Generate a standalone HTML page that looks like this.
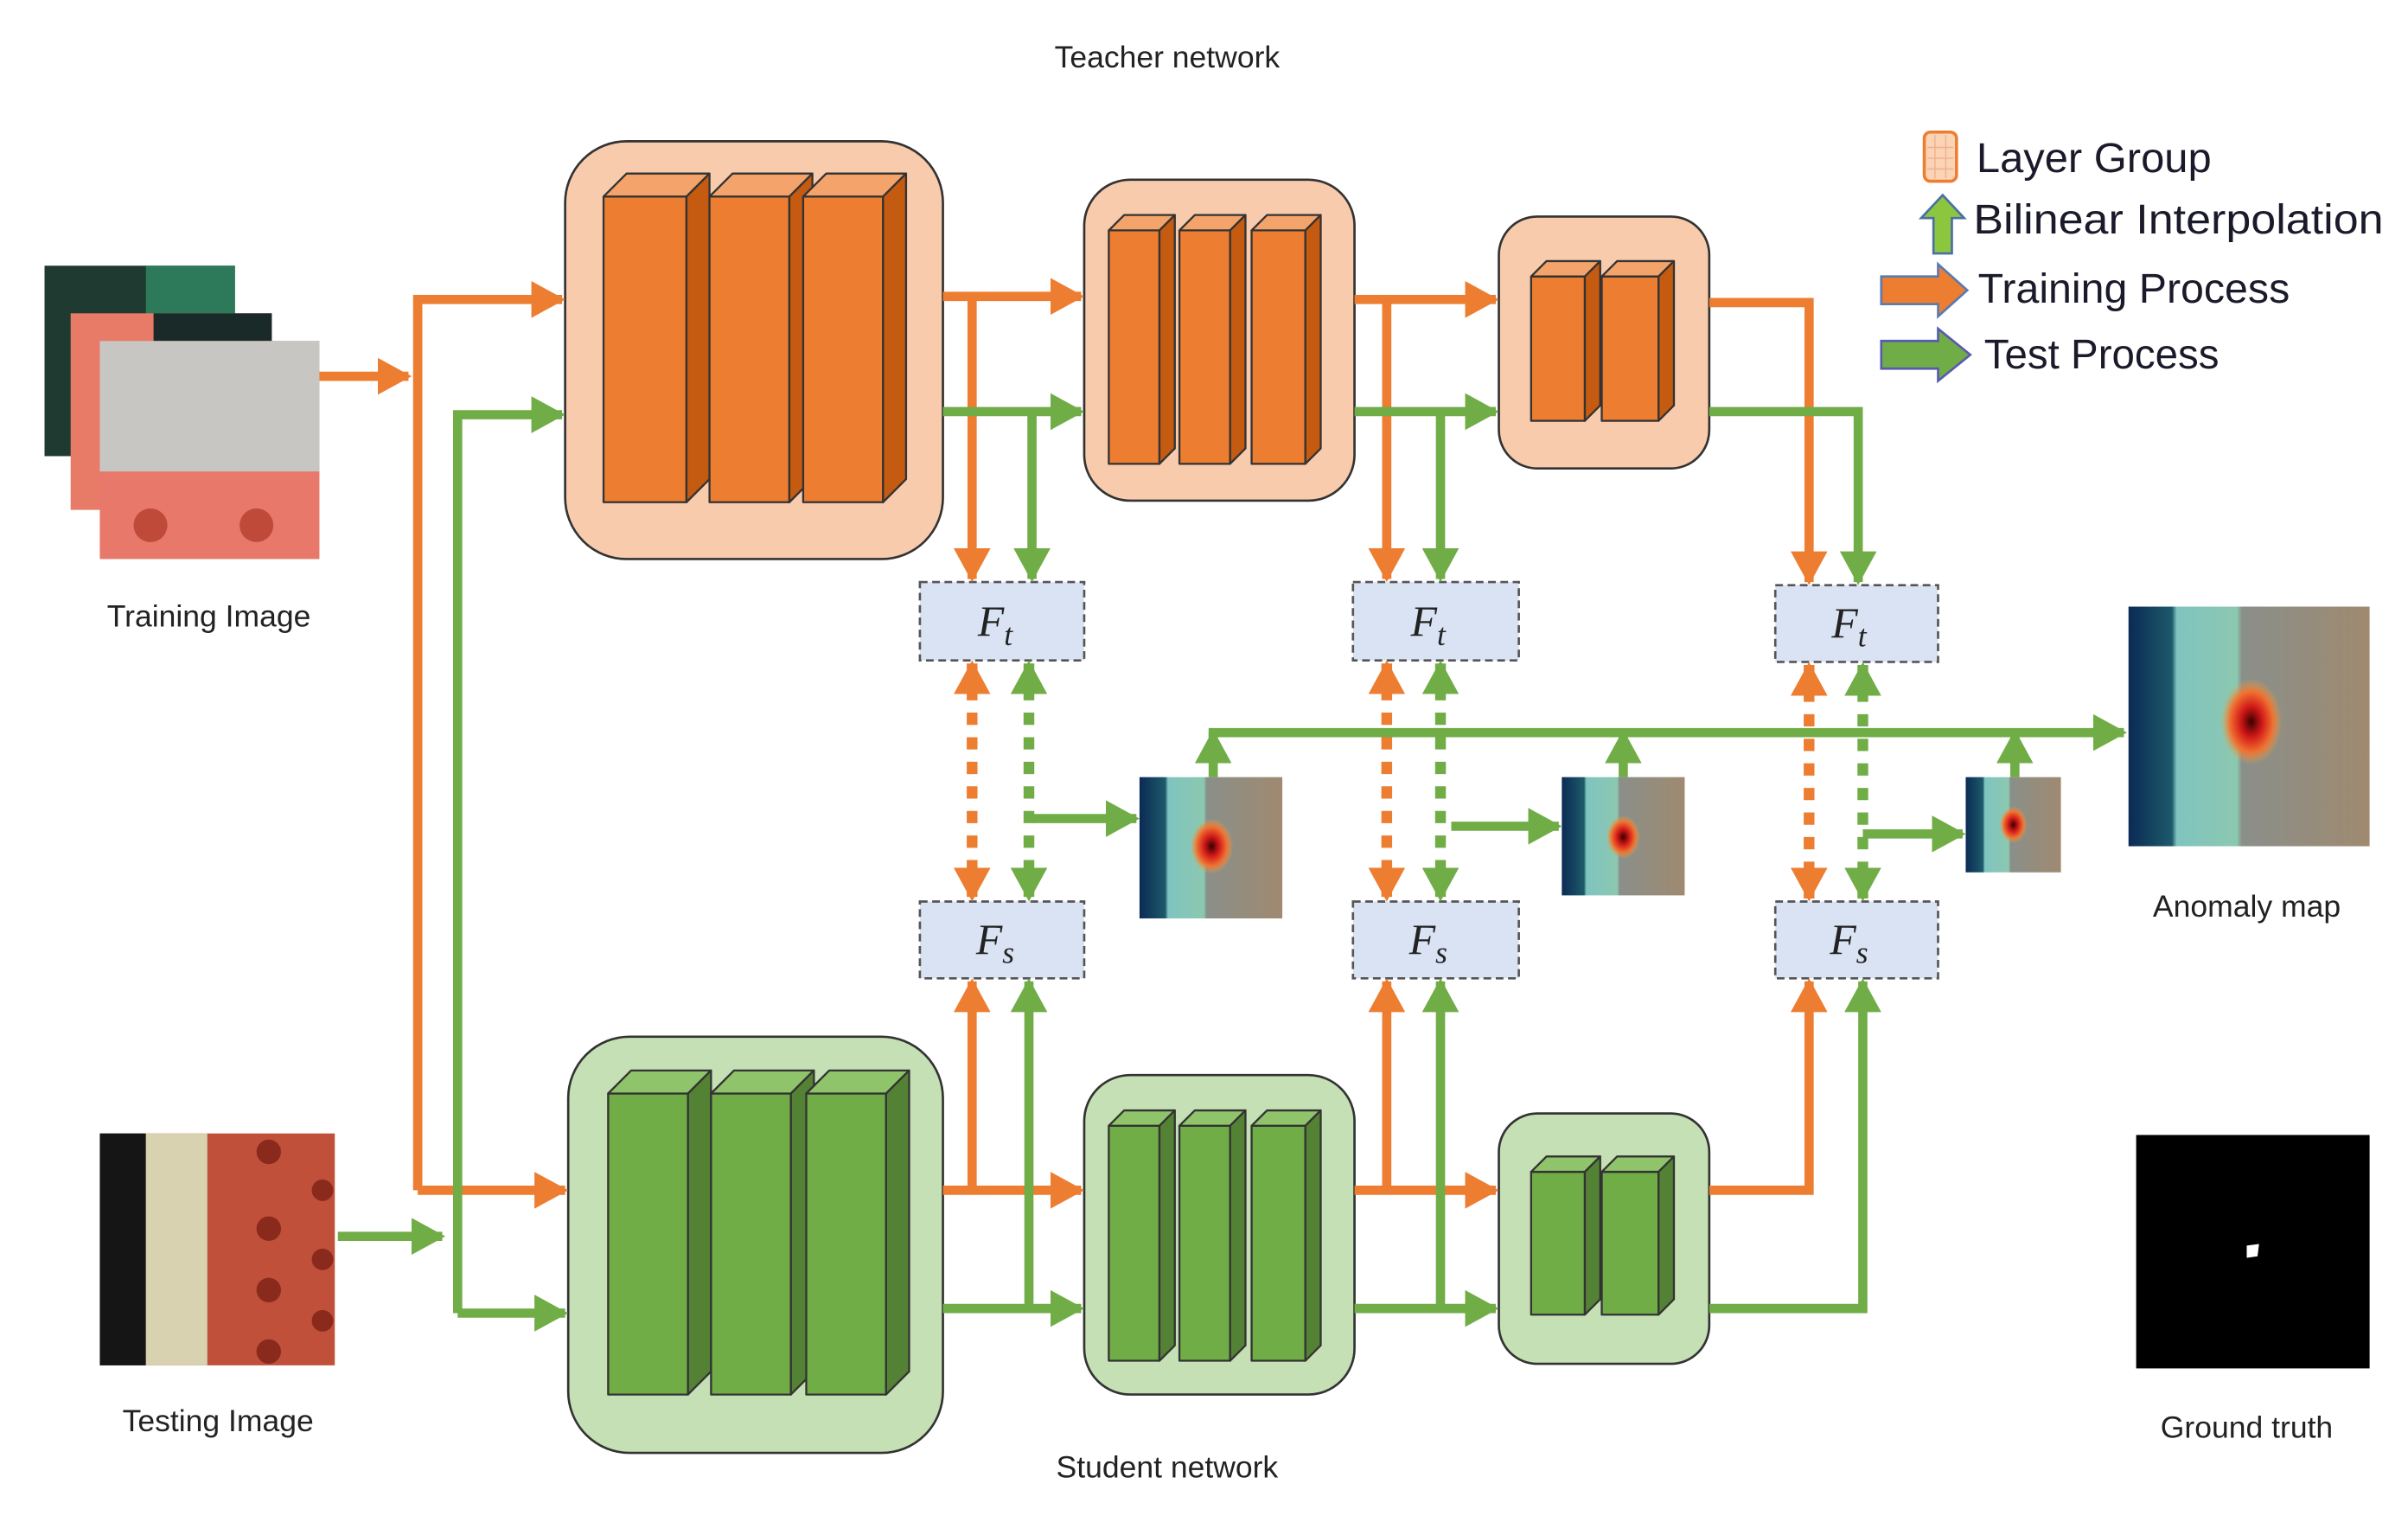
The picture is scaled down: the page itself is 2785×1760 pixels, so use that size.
<!DOCTYPE html>
<html><head><meta charset="utf-8"><style>html,body{margin:0;padding:0;background:#fff}svg{display:block}</style></head>
<body>
<svg width="2785" height="1760" viewBox="0 0 1568 991" preserveAspectRatio="none" xmlns="http://www.w3.org/2000/svg" font-family="Liberation Sans, DejaVu Sans, sans-serif">
<defs>
<marker id="ao" markerWidth="24" markerHeight="24" refX="20" refY="12" orient="auto-start-reverse" markerUnits="userSpaceOnUse"><path d="M0,0 L22,12 L0,24 z" fill="#ed7d31"/></marker>
<marker id="ag" markerWidth="24" markerHeight="24" refX="20" refY="12" orient="auto-start-reverse" markerUnits="userSpaceOnUse"><path d="M0,0 L22,12 L0,24 z" fill="#70ad47"/></marker>
<linearGradient id="hm" x1="0" x2="1" y1="0" y2="0">
<stop offset="0" stop-color="#0b2a55"/><stop offset="0.18" stop-color="#1d5a6a"/><stop offset="0.2" stop-color="#7fc4c0"/><stop offset="0.45" stop-color="#8cc8b0"/><stop offset="0.47" stop-color="#8a8f8a"/><stop offset="1" stop-color="#a08a70"/></linearGradient>
<radialGradient id="hot"><stop offset="0" stop-color="#3a0000"/><stop offset="0.35" stop-color="#d01818"/><stop offset="0.7" stop-color="#f07030"/><stop offset="1" stop-color="#f0a040" stop-opacity="0"/></radialGradient>
</defs>
<rect width="1568" height="991" fill="#fff"/>

<text x="760" y="44" font-size="20" text-anchor="middle" fill="#222">Teacher network</text>
<text x="760" y="962" font-size="20" text-anchor="middle" fill="#222">Student network</text>

<rect x="29" y="173" width="124" height="124" fill="#1f3a30"/><rect x="95" y="173" width="58" height="60" fill="#2d7a5a"/>
<rect x="46" y="204" width="131" height="128" fill="#e87a68"/><rect x="100" y="204" width="77" height="20" fill="#1a2a28"/>
<rect x="65" y="222" width="143" height="142" fill="#e8786a"/><rect x="65" y="222" width="143" height="85" fill="#c8c6c2"/>
<circle cx="98" cy="342" r="11" fill="#c04a3a"/><circle cx="167" cy="342" r="11" fill="#c04a3a"/>
<text x="136" y="408" font-size="20" text-anchor="middle" fill="#222">Training Image</text>

<rect x="65" y="738" width="153" height="151" fill="#c0503a"/><rect x="65" y="738" width="30" height="151" fill="#151515"/><rect x="95" y="738" width="40" height="151" fill="#d8d2b0"/>
<g fill="#8a2a1c"><circle cx="175" cy="750" r="8"/><circle cx="175" cy="800" r="8"/><circle cx="175" cy="840" r="8"/><circle cx="175" cy="880" r="8"/><circle cx="210" cy="775" r="7"/><circle cx="210" cy="820" r="7"/><circle cx="210" cy="860" r="7"/></g>
<text x="142" y="932" font-size="20" text-anchor="middle" fill="#222">Testing Image</text>

<rect x="742" y="506" width="93" height="92" fill="url(#hm)"/><ellipse cx="789" cy="551" rx="14" ry="18" fill="url(#hot)"/>
<rect x="1017" y="506" width="80" height="77" fill="url(#hm)"/><ellipse cx="1057" cy="545" rx="11" ry="14" fill="url(#hot)"/>
<rect x="1280" y="506" width="62" height="62" fill="url(#hm)"/><ellipse cx="1311" cy="537" rx="9" ry="12" fill="url(#hot)"/>
<rect x="1386" y="395" width="157" height="156" fill="url(#hm)"/><ellipse cx="1466" cy="470" rx="20" ry="28" fill="url(#hot)"/>
<text x="1463" y="597" font-size="20" text-anchor="middle" fill="#222">Anomaly map</text>
<rect x="1391" y="739" width="152" height="152" fill="#000"/><path d="M1463,811 l8,-1 l-1,8 l-7,1 z" fill="#fff"/>
<text x="1463" y="936" font-size="20" text-anchor="middle" fill="#222">Ground truth</text>

<g stroke="#333" stroke-width="1.5">
<rect x="368" y="92" width="246" height="272" rx="40" fill="#f8cbad"/>
<rect x="706" y="117" width="176" height="209" rx="30" fill="#f8cbad"/>
<rect x="976" y="141" width="137" height="164" rx="25" fill="#f8cbad"/>
<rect x="370" y="675" width="244" height="271" rx="40" fill="#c5e0b4"/>
<rect x="706" y="700" width="176" height="208" rx="30" fill="#c5e0b4"/>
<rect x="976" y="725" width="137" height="163" rx="25" fill="#c5e0b4"/>
</g>

<g stroke="#333" stroke-width="1.3" stroke-linejoin="round">
<rect x="393" y="128" width="54" height="199" fill="#ed7d31"/><polygon points="393,128 408,113 462,113 447,128" fill="#f4a46a"/><polygon points="447,128 462,113 462,312 447,327" fill="#c55a11"/>
<rect x="462" y="128" width="52" height="199" fill="#ed7d31"/><polygon points="462,128 477,113 529,113 514,128" fill="#f4a46a"/><polygon points="514,128 529,113 529,312 514,327" fill="#c55a11"/>
<rect x="523" y="128" width="52" height="199" fill="#ed7d31"/><polygon points="523,128 538,113 590,113 575,128" fill="#f4a46a"/><polygon points="575,128 590,113 590,312 575,327" fill="#c55a11"/>
<rect x="722" y="150" width="33" height="152" fill="#ed7d31"/><polygon points="722,150 732,140 765,140 755,150" fill="#f4a46a"/><polygon points="755,150 765,140 765,292 755,302" fill="#c55a11"/>
<rect x="768" y="150" width="33" height="152" fill="#ed7d31"/><polygon points="768,150 778,140 811,140 801,150" fill="#f4a46a"/><polygon points="801,150 811,140 811,292 801,302" fill="#c55a11"/>
<rect x="815" y="150" width="35" height="152" fill="#ed7d31"/><polygon points="815,150 825,140 860,140 850,150" fill="#f4a46a"/><polygon points="850,150 860,140 860,292 850,302" fill="#c55a11"/>
<rect x="997" y="180" width="35" height="94" fill="#ed7d31"/><polygon points="997,180 1007,170 1042,170 1032,180" fill="#f4a46a"/><polygon points="1032,180 1042,170 1042,264 1032,274" fill="#c55a11"/>
<rect x="1043" y="180" width="37" height="94" fill="#ed7d31"/><polygon points="1043,180 1053,170 1090,170 1080,180" fill="#f4a46a"/><polygon points="1080,180 1090,170 1090,264 1080,274" fill="#c55a11"/>
<rect x="396" y="712" width="52" height="196" fill="#70ad47"/><polygon points="396,712 411,697 463,697 448,712" fill="#8fc46a"/><polygon points="448,712 463,697 463,893 448,908" fill="#548235"/>
<rect x="463" y="712" width="52" height="196" fill="#70ad47"/><polygon points="463,712 478,697 530,697 515,712" fill="#8fc46a"/><polygon points="515,712 530,697 530,893 515,908" fill="#548235"/>
<rect x="525" y="712" width="52" height="196" fill="#70ad47"/><polygon points="525,712 540,697 592,697 577,712" fill="#8fc46a"/><polygon points="577,712 592,697 592,893 577,908" fill="#548235"/>
<rect x="722" y="733" width="33" height="153" fill="#70ad47"/><polygon points="722,733 732,723 765,723 755,733" fill="#8fc46a"/><polygon points="755,733 765,723 765,876 755,886" fill="#548235"/>
<rect x="768" y="733" width="33" height="153" fill="#70ad47"/><polygon points="768,733 778,723 811,723 801,733" fill="#8fc46a"/><polygon points="801,733 811,723 811,876 801,886" fill="#548235"/>
<rect x="815" y="733" width="35" height="153" fill="#70ad47"/><polygon points="815,733 825,723 860,723 850,733" fill="#8fc46a"/><polygon points="850,733 860,723 860,876 850,886" fill="#548235"/>
<rect x="997" y="763" width="35" height="93" fill="#70ad47"/><polygon points="997,763 1007,753 1042,753 1032,763" fill="#8fc46a"/><polygon points="1032,763 1042,753 1042,846 1032,856" fill="#548235"/>
<rect x="1043" y="763" width="37" height="93" fill="#70ad47"/><polygon points="1043,763 1053,753 1090,753 1080,763" fill="#8fc46a"/><polygon points="1080,763 1090,753 1090,846 1080,856" fill="#548235"/>
</g>

<g fill="#dae3f3" stroke="#555" stroke-width="1.5" stroke-dasharray="5,3">
<rect x="599" y="379" width="107" height="51"/><rect x="881" y="379" width="108" height="51"/><rect x="1156" y="381" width="106" height="50"/>
<rect x="599" y="587" width="107" height="50"/><rect x="881" y="587" width="108" height="50"/><rect x="1156" y="587" width="106" height="50"/>
</g>
<g font-family="Liberation Serif, DejaVu Serif, serif" font-style="italic" font-size="28" fill="#222" text-anchor="middle">
<text x="648" y="414">F<tspan font-size="20" dy="6">t</tspan></text>
<text x="930" y="414">F<tspan font-size="20" dy="6">t</tspan></text>
<text x="1204" y="415">F<tspan font-size="20" dy="6">t</tspan></text>
<text x="648" y="621">F<tspan font-size="20" dy="6">s</tspan></text>
<text x="930" y="621">F<tspan font-size="20" dy="6">s</tspan></text>
<text x="1204" y="621">F<tspan font-size="20" dy="6">s</tspan></text>
</g>

<g fill="none" stroke="#ed7d31" stroke-width="6">
<path d="M208,245 H266" marker-end="url(#ao)"/>
<path d="M272,775 V195 H366" marker-end="url(#ao)"/>
<path d="M272,775 H368" marker-end="url(#ao)"/>
<path d="M614,193 H704" marker-end="url(#ao)"/>
<path d="M633,193 V377" marker-end="url(#ao)"/>
<path d="M882,195 H974" marker-end="url(#ao)"/>
<path d="M903,195 V377" marker-end="url(#ao)"/>
<path d="M1113,197 H1178 V379" marker-end="url(#ao)"/>
<path d="M614,775 H704" marker-end="url(#ao)"/>
<path d="M633,775 V639" marker-end="url(#ao)"/>
<path d="M882,775 H974" marker-end="url(#ao)"/>
<path d="M903,775 V639" marker-end="url(#ao)"/>
<path d="M1113,775 H1178 V639" marker-end="url(#ao)"/>
</g>
<g fill="none" stroke="#ed7d31" stroke-width="7" stroke-dasharray="8,8">
<path d="M633,432 V585" marker-start="url(#ao)" marker-end="url(#ao)"/>
<path d="M903,432 V585" marker-start="url(#ao)" marker-end="url(#ao)"/>
<path d="M1178,433 V585" marker-start="url(#ao)" marker-end="url(#ao)"/>
</g>
<g fill="none" stroke="#70ad47" stroke-width="6">
<path d="M220,805 H288" marker-end="url(#ag)"/>
<path d="M298,855 V270 H366" marker-end="url(#ag)"/>
<path d="M298,855 H368" marker-end="url(#ag)"/>
<path d="M614,268 H704" marker-end="url(#ag)"/>
<path d="M672,268 V377" marker-end="url(#ag)"/>
<path d="M882,268 H974" marker-end="url(#ag)"/>
<path d="M938,268 V377" marker-end="url(#ag)"/>
<path d="M1113,268 H1210 V379" marker-end="url(#ag)"/>
<path d="M614,852 H704" marker-end="url(#ag)"/>
<path d="M670,852 V639" marker-end="url(#ag)"/>
<path d="M882,852 H974" marker-end="url(#ag)"/>
<path d="M938,852 V639" marker-end="url(#ag)"/>
<path d="M1113,852 H1213 V639" marker-end="url(#ag)"/>
<path d="M672,533 H740" marker-end="url(#ag)"/>
<path d="M945,538 H1015" marker-end="url(#ag)"/>
<path d="M1213,543 H1278" marker-end="url(#ag)"/>
<path d="M790,506 V477" marker-end="url(#ag)"/>
<path d="M1057,506 V477" marker-end="url(#ag)"/>
<path d="M1312,506 V477" marker-end="url(#ag)"/>
<path d="M787,477 H1383" marker-end="url(#ag)"/>
</g>
<g fill="none" stroke="#70ad47" stroke-width="7" stroke-dasharray="8,8">
<path d="M670,432 V585" marker-start="url(#ag)" marker-end="url(#ag)"/>
<path d="M938,432 V585" marker-start="url(#ag)" marker-end="url(#ag)"/>
<path d="M1213,433 V585" marker-start="url(#ag)" marker-end="url(#ag)"/>
</g>

<rect x="1253" y="86" width="21" height="32" rx="4" fill="#fbd3b5" stroke="#ed7d31" stroke-width="2"/>
<g stroke="#f0b090" stroke-width="0.8"><path d="M1260,88 V116 M1267,88 V116 M1255,96 H1272 M1255,103 H1272 M1255,110 H1272"/></g>
<polygon points="1259,165 1271,165 1271,142 1279,142 1265,127 1251,142 1259,142" fill="#8cc63f" stroke="#4a6fa5" stroke-width="1.5"/>
<polygon points="1225,180 1262,180 1262,172 1281,189 1262,206 1262,198 1225,198" fill="#ed7d31" stroke="#5a7ab0" stroke-width="1.5"/>
<polygon points="1225,222 1262,222 1262,214 1283,231 1262,248 1262,240 1225,240" fill="#70ad47" stroke="#5a5ab0" stroke-width="1.5"/>
<g font-size="27" fill="#1a1a2a">
<text x="1287" y="112" textLength="153" lengthAdjust="spacingAndGlyphs">Layer Group</text>
<text x="1285" y="152" textLength="267" lengthAdjust="spacingAndGlyphs">Bilinear Interpolation</text>
<text x="1288" y="197" textLength="203" lengthAdjust="spacingAndGlyphs">Training Process</text>
<text x="1292" y="240" textLength="153" lengthAdjust="spacingAndGlyphs">Test Process</text>
</g>
</svg>
</body></html>
